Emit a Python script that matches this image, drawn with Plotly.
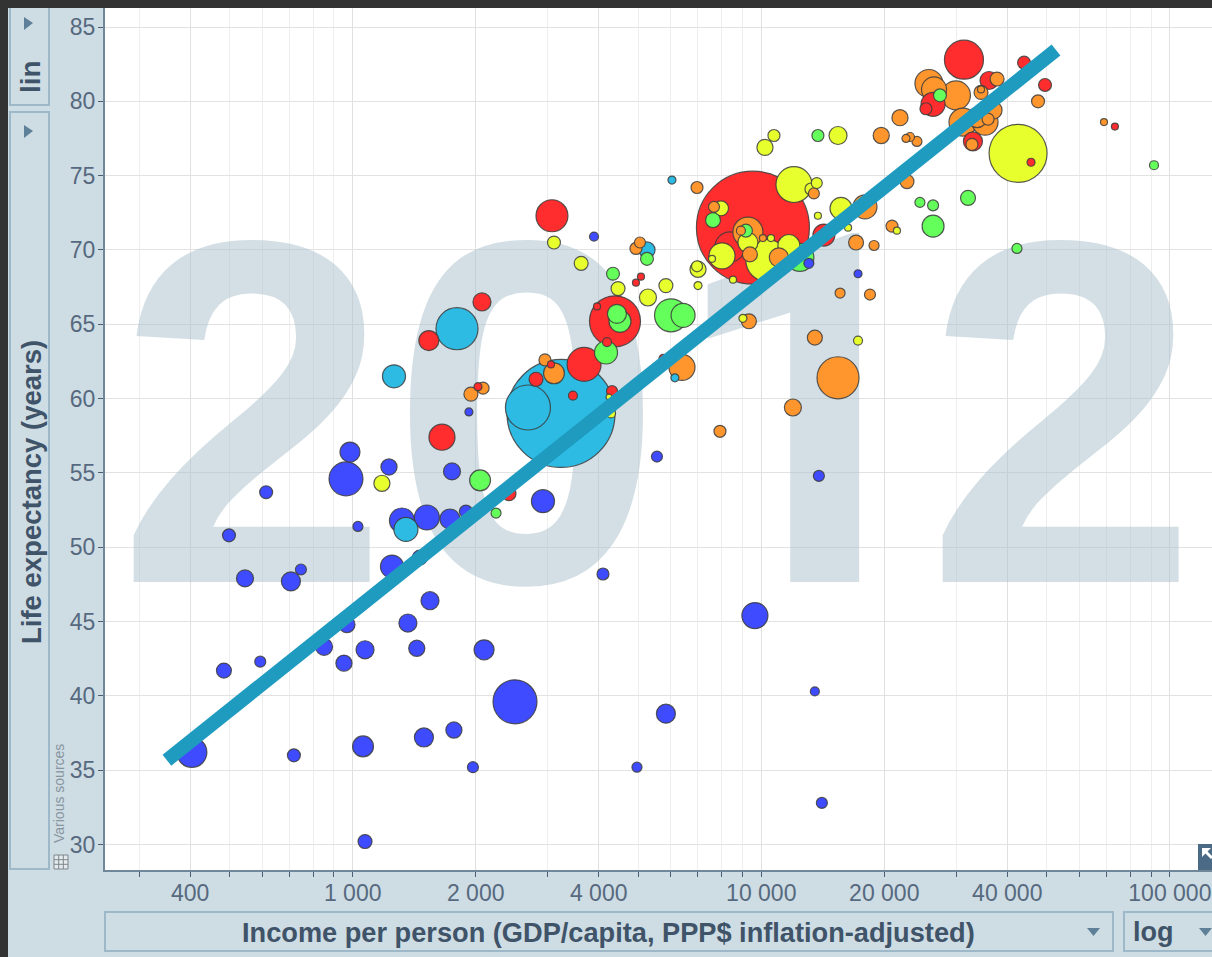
import numpy as np
import plotly.graph_objects as go

# big year behind the bubbles, one digit at a time
year_digits = ["2", "0", "1", "2"]
year_fonts = ["Liberation Sans", "Liberation Sans", "Roboto", "Liberation Sans"]
year_income = [570, 2668, 13010, 54430]
year_life = [55.9, 55.9, 55.9, 55.9]

# income per person, life expectancy (years), population (millions), by region
income_blue = [404, 718, 1060, 1072, 1494, 1769, 1969, 2496, 5842, 4963, 14070, 13524, 9648, 4098, 5555, 13835,
               1925, 3896, 13076, 17250, 2922, 985, 963, 1227, 614, 1750, 1030, 498, 1320, 1519, 1730, 1893,
               1248, 1460, 545, 706, 747, 1546, 1365, 968, 851, 1072, 1435, 2097, 952, 594, 484]
life_blue = [36.2, 36.0, 36.6, 30.2, 37.2, 37.7, 35.2, 39.6, 38.8, 35.2, 32.8, 40.3, 45.4, 48.2, 56.1, 54.8,
             59.1, 70.9, 69.1, 68.4, 53.1, 56.4, 54.6, 55.4, 53.7, 55.1, 51.4, 50.8, 51.8, 52.0, 51.9, 52.4,
             48.7, 49.3, 47.9, 47.7, 48.5, 46.4, 44.9, 44.8, 43.3, 43.1, 43.2, 43.1, 42.2, 42.3, 41.7]
pop_blue = [97, 18, 47, 21, 39, 28, 13, 208, 39, 10.8, 13, 8.7, 73, 15.5, 13, 13,
            6.9, 8.7, 10.8, 6.9, 57, 43, 124, 28, 18, 31, 10.8, 18, 67, 67, 43, 18,
            57, 24, 31, 39, 13, 35, 35, 28, 31, 35, 28, 43, 28, 13, 24]

income_cyan = [3235, 2685, 1800, 1262, 1350, 5251, 6045, 6146]
life_cyan = [59.0, 59.4, 64.7, 61.5, 51.2, 70.0, 74.7, 61.4]
pop_cyan = [1255, 218, 190, 57, 62, 28, 6.9, 6.9]

income_red = [9540, 8380, 4385, 3684, 3963, 4192, 3460, 4312, 2810, 3057, 1654, 2072, 1536, 2026, 2413, 3074,
              5076, 4935, 5746, 14232, 31335, 43968, 49480, 26327, 25293, 36090, 32960, 45730, 73370]
life_red = [71.5, 70.2, 65.2, 62.3, 66.2, 63.8, 60.2, 60.5, 61.3, 62.3, 57.4, 66.5, 63.9, 60.8, 53.6, 72.3,
            68.2, 67.8, 62.7, 71.0, 82.8, 82.6, 81.1, 79.8, 79.5, 81.4, 77.3, 75.9, 78.3]
pop_red = [1374, 97, 280, 124, 5.3, 8.7, 8.7, 13, 21, 5.3, 73, 35, 43, 6.9, 21, 110,
           5.3, 5.3, 6.9, 52, 164, 18, 18, 62, 15.5, 35, 39, 6.9, 5.3]

income_orange = [1947, 2085, 2955, 3109, 4935, 5047, 6396, 6962, 7661, 9275, 8916, 9380, 11040, 10093, 13450, 19660,
                 17940, 17060, 18880, 20890, 22730, 15590, 18450, 13524, 9327, 15410, 11950, 7923, 25720, 26470,
                 29960, 37760, 34500, 34500, 21850, 23120, 22600, 24040, 31160, 35290, 33740, 36920, 35890, 32780,
                 47570, 68980]
life_orange = [60.3, 60.7, 62.6, 61.7, 70.1, 70.5, 62.1, 74.2, 72.9, 71.2, 71.3, 69.7, 69.5, 70.8, 73.8, 77.7,
               72.9, 70.5, 70.3, 71.6, 74.6, 67.1, 67.0, 64.1, 65.2, 61.4, 59.4, 57.8, 81.2, 80.8,
               80.4, 81.5, 80.6, 80.8, 78.9, 77.6, 77.5, 77.3, 78.6, 78.6, 78.9, 79.4, 78.8, 77.1,
               80.0, 78.6]
pop_orange = [21, 15.5, 15.5, 47, 15.5, 13, 73, 15.5, 13, 97, 8.7, 24, 39, 5.3, 13, 28,
              62, 24, 10.8, 15.5, 21, 10.8, 13, 24, 24, 190, 31, 15.5, 84, 67,
              90, 21, 21, 5.3, 28, 8.7, 6.9, 10.8, 84, 73, 43, 35, 15.5, 15.5,
              18, 5.3]

income_yellow = [1179, 4288, 4240, 5280, 4461, 5842, 3624, 3109, 7001, 6962, 7001, 9017, 8527, 7970, 9275, 8014,
                 7576, 10318, 11680, 10560, 12020, 13670, 13230, 10210, 10740, 15410, 15670, 13760, 16310, 21480,
                 17250, 42510]
life_yellow = [54.3, 59.0, 60.1, 66.8, 67.4, 67.6, 69.1, 70.5, 68.7, 68.9, 67.6, 65.4, 68.0, 72.8, 70.5, 69.6,
               69.4, 69.3, 70.3, 70.8, 74.4, 74.5, 74.1, 76.9, 77.7, 77.7, 72.8, 72.3, 71.5, 71.3,
               63.9, 76.5]
pop_yellow = [28, 8.7, 3.9, 31, 21, 21, 21, 18, 28, 13, 6.9, 6.9, 5.3, 24, 43, 73,
              5.3, 190, 52, 5.3, 139, 13, 15.5, 28, 15.5, 35, 52, 5.3, 5.3, 5.3,
              8.7, 362]

income_green = [2050, 2243, 4169, 4510, 4433, 4336, 5251, 6013, 6436, 7618, 9171, 12430, 13760, 24450, 26330, 32060,
                26330, 27370, 42240, 91440]
life_green = [54.5, 52.3, 63.1, 65.2, 65.7, 68.4, 69.4, 65.6, 65.6, 72.0, 71.3, 69.5, 77.7, 73.2, 73.0, 73.5,
              71.6, 80.4, 70.1, 75.7]
pop_green = [47, 10.8, 57, 52, 39, 18, 18, 117, 62, 24, 18, 84, 15.5, 10.8, 13, 24,
             52, 18, 10.8, 8.7]

trend_income = [351, 52640]
trend_life = [35.67, 83.45]

x_major = [400, 1000, 2000, 4000, 10000, 20000, 40000, 100000]
x_labels = ["400", "1 000", "2 000", "4 000", "10 000", "20 000", "40 000", "100 000"]
x_minor = [300, 500, 600, 700, 800, 900, 3000, 5000, 6000, 7000, 8000, 9000,
           30000, 50000, 60000, 70000, 80000, 90000]
y_ticks = [30, 35, 40, 45, 50, 55, 60, 65, 70, 75, 80, 85]

COL_BLUE = "#3F4BFF"
COL_CYAN = "#2DBBE3"
COL_RED = "#FF2D2D"
COL_ORANGE = "#FF962D"
COL_YELLOW = "#E6FF2D"
COL_GREEN = "#64FF5A"

PANEL = "#CEDCE3"
DARK = "#333333"
BORDER = "#9DB8C8"
TEXT = "#3F5369"
TICK_TEXT = "#56697F"
ARROW = "#5F8099"

W, H = 1212, 957
L, T, B = 105, 8, 87

# join the regions and draw the biggest bubbles first
income = np.array(income_blue + income_cyan + income_red + income_orange + income_yellow + income_green)
life = np.array(life_blue + life_cyan + life_red + life_orange + life_yellow + life_green)
pop = np.array(pop_blue + pop_cyan + pop_red + pop_orange + pop_yellow + pop_green)
colors = np.array([COL_BLUE] * len(income_blue) + [COL_CYAN] * len(income_cyan) + [COL_RED] * len(income_red)
                  + [COL_ORANGE] * len(income_orange) + [COL_YELLOW] * len(income_yellow)
                  + [COL_GREEN] * len(income_green))
order = np.argsort(-pop, kind="stable")

fig = go.Figure()

fig.add_trace(go.Scatter(
    x=year_income, y=year_life, mode="text", text=[f"<b>{d}</b>" for d in year_digits], hoverinfo="skip",
    textposition="middle center",
    textfont=dict(family=year_fonts, size=490, color="rgba(167,191,203,0.5)"),
))

fig.add_trace(go.Scatter(
    x=income[order], y=life[order], mode="markers",
    marker=dict(size=pop[order], sizemode="area", sizeref=0.2152, color=colors[order].tolist(),
                opacity=1, line=dict(color="rgba(60,60,60,0.85)", width=1.2)),
))

fig.add_trace(go.Scatter(
    x=trend_income, y=trend_life, mode="lines", line=dict(color="#1F9BC0", width=14), hoverinfo="skip",
))


def fx(px):
    return (px - L) / (W - L)


def fy(py):
    return (H - B - py) / (H - B - T)


def rect(x0, y0, x1, y1, fill=None, line=None, width=2):
    return dict(type="rect", xref="paper", yref="paper", x0=fx(x0), x1=fx(x1), y0=fy(y0), y1=fy(y1),
                fillcolor=fill or "rgba(0,0,0,0)", line=dict(color=line or "rgba(0,0,0,0)", width=width),
                layer="above")


def poly(points, fill=None, line=None, width=1, close=True):
    path = "M " + " L ".join(f"{fx(a)} {fy(b)}" for a, b in points) + (" Z" if close else "")
    return dict(type="path", xref="paper", yref="paper", path=path, fillcolor=fill or "rgba(0,0,0,0)",
                line=dict(color=line or "rgba(0,0,0,0)", width=width), layer="above")


shapes = [
    rect(10, 2, 49, 105, line=BORDER),
    rect(10, 112, 49, 869, line=BORDER),
    rect(105, 912, 1113, 951, line=BORDER),
    rect(1124, 912, 1222, 951, line=BORDER),
    poly([(24, 17), (33, 23), (24, 30)], fill=ARROW),
    poly([(24, 125), (33, 131), (24, 138)], fill=ARROW),
    poly([(1087, 928), (1100, 928), (1093.5, 936)], fill=ARROW),
    poly([(1199, 928), (1212, 928), (1205.5, 936)], fill=ARROW),
    # table icon next to the sources
    rect(54, 855, 68, 869, fill="#E4EAED", line="#7E868C", width=1),
    poly([(58.7, 855), (58.7, 869)], line="#7E868C", close=False),
    poly([(63.3, 855), (63.3, 869)], line="#7E868C", close=False),
    poly([(54, 859.7), (68, 859.7)], line="#7E868C", close=False),
    poly([(54, 864.3), (68, 864.3)], line="#7E868C", close=False),
    # expand button in the corner
    rect(1198, 844, 1212, 870, fill="#4A6A85"),
    poly([(1202, 848), (1211, 848), (1202, 857)], fill="white"),
    poly([(1205, 851), (1212, 858)], line="white", width=3, close=False),
    # dark window edge
    rect(0, 0, W, T, fill=DARK),
    rect(0, 0, 8, H, fill=DARK),
]

annotations = [
    dict(text="<b>lin</b>", x=fx(30), y=fy(77), textangle=-90, font=dict(size=28, color=TEXT)),
    dict(text="<b>Life expectancy (years)</b>", x=fx(31), y=fy(492), textangle=-90, font=dict(size=27.5, color=TEXT)),
    dict(text="Various sources", x=fx(59), y=fy(794), textangle=-90, font=dict(size=14, color="#87959F")),
    dict(text="<b>Income per person (GDP/capita, PPP$ inflation-adjusted)</b>", x=fx(608), y=fy(932),
         font=dict(size=27.2, color=TEXT)),
    dict(text="<b>log</b>", x=fx(1153), y=fy(932), font=dict(size=27, color=TEXT)),
]
for a in annotations:
    a.update(xref="paper", yref="paper", showarrow=False, xanchor="center", yanchor="middle")

fig.update_layout(
    width=W, height=H, showlegend=False,
    margin=dict(l=L, r=0, t=T, b=B, pad=0),
    paper_bgcolor=PANEL, plot_bgcolor="white",
    font=dict(family="Liberation Sans", color=TICK_TEXT),
    shapes=shapes, annotations=annotations,
    xaxis=dict(
        type="log", range=[2.3938, 5.1031],
        tickmode="array", tickvals=x_major, ticktext=x_labels, tickfont=dict(size=23, color=TICK_TEXT),
        ticks="outside", ticklen=5, tickcolor="#4A5F73", tickwidth=1, ticklabelstandoff=-4,
        showgrid=True, gridcolor="#E0E0E0", gridwidth=1.2,
        minor=dict(tickmode="array", tickvals=x_minor, ticks="outside", ticklen=5, tickcolor="#4A5F73",
                   showgrid=True, gridcolor="#EEEEEE", gridwidth=1),
        showline=True, linecolor="#6F8799", linewidth=2, zeroline=False,
    ),
    yaxis=dict(
        range=[28.284, 86.278],
        tickmode="array", tickvals=y_ticks, tickfont=dict(size=23, color=TICK_TEXT),
        ticks="outside", ticklen=5, tickcolor="#4A5F73", tickwidth=1, ticklabelstandoff=-2,
        showgrid=True, gridcolor="#E2E2E2", gridwidth=1.2,
        showline=True, linecolor="#6F8799", linewidth=2, zeroline=False,
    ),
)

fig.write_html("out.html", config={"displayModeBar": False},
               post_script="document.body.style.margin='0';document.body.style.overflow='hidden';")
